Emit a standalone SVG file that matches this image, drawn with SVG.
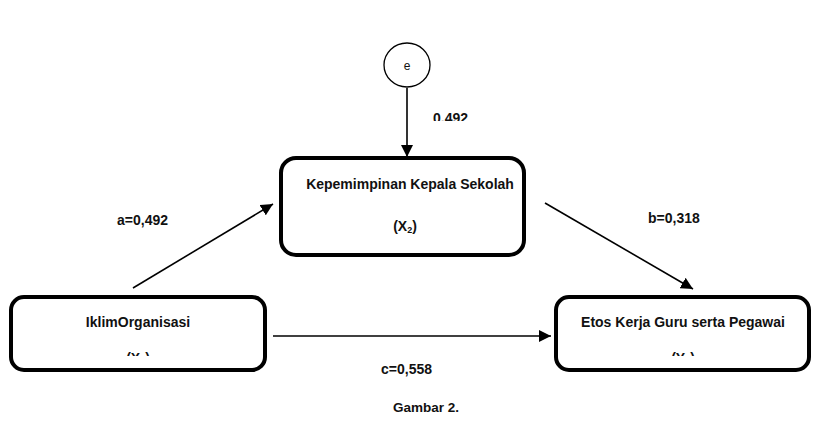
<svg xmlns="http://www.w3.org/2000/svg" width="831" height="424" viewBox="0 0 831 424">
<style>
.box{fill:#fff;stroke:#000;stroke-width:4}
.t{font-family:"Liberation Sans",Arial,sans-serif;font-weight:bold;font-size:14px;fill:#111;text-anchor:middle}
.l{font-family:"Liberation Sans",Arial,sans-serif;font-weight:bold;font-size:14px;fill:#111}
.c{stroke:#000;stroke-width:1.6;fill:none}
</style>
<defs>
<marker id="ahb" viewBox="0 0 10 10" refX="10" refY="5" markerWidth="12" markerHeight="12" markerUnits="userSpaceOnUse" orient="auto">
<path d="M0,0 L10,5 L0,10 z" fill="#000"/>
</marker>
<clipPath id="clipL"><rect x="0" y="0" width="831" height="356"/></clipPath>
<clipPath id="clipT"><rect x="0" y="0" width="831" height="121"/></clipPath>
</defs>
<rect width="831" height="424" fill="#fff"/>
<g id="connectors">
<line class="c" x1="407" y1="88" x2="407" y2="157" marker-end="url(#ahb)"/>
<line class="c" x1="133" y1="288" x2="273" y2="204" marker-end="url(#ahb)"/>
<line class="c" x1="545" y1="203" x2="693" y2="289" marker-end="url(#ahb)"/>
<line class="c" x1="273" y1="336" x2="551" y2="336" marker-end="url(#ahb)"/>
</g>
<g id="node-e">
<ellipse cx="407" cy="65" rx="23" ry="22" fill="#fff" stroke="#000" stroke-width="1.3"/>
<text x="407" y="70" class="t" style="font-weight:normal;font-size:12px">e</text>
</g>
<g id="node-x2">
<rect class="box" x="281" y="158" width="243" height="97" rx="15"/>
<text class="t" x="410" y="189">Kepemimpinan Kepala Sekolah</text>
<text class="t" x="405" y="231">(X<tspan font-size="9" dy="2">2</tspan><tspan dy="-2">)</tspan></text>
</g>
<g id="node-x1">
<rect class="box" x="11" y="297" width="254" height="73" rx="13"/>
<text class="t" x="138" y="327">IklimOrganisasi</text>
<text class="t" x="138" y="363" clip-path="url(#clipL)">(X<tspan font-size="9" dy="2">1</tspan><tspan dy="-2">)</tspan></text>
</g>
<g id="node-y">
<rect class="box" x="556" y="297" width="253" height="73" rx="13"/>
<text class="t" x="683" y="327">Etos Kerja Guru serta Pegawai</text>
<text class="t" x="683" y="363" clip-path="url(#clipL)">(Y<tspan font-size="9" dy="2">1</tspan><tspan dy="-2">)</tspan></text>
</g>
<g id="labels">
<text class="l" x="433" y="123" clip-path="url(#clipT)">0.492</text>
<text class="l" x="117" y="225">a=0,492</text>
<text class="l" x="648" y="223">b=0,318</text>
<text class="l" x="381" y="374">c=0,558</text>
<text class="l" x="393" y="412" style="font-size:13.5px">Gambar 2.</text>
</g>
</svg>
